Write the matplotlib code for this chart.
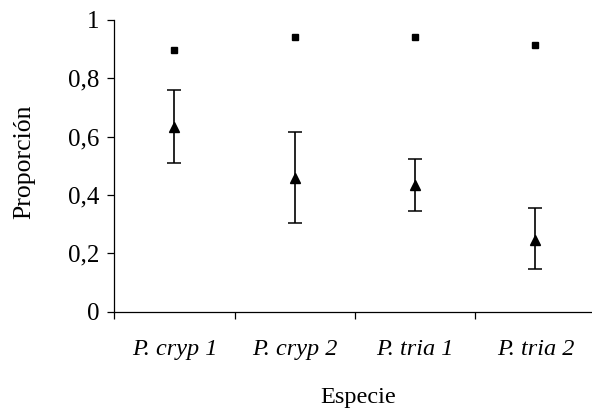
import matplotlib
matplotlib.use("Agg")
import matplotlib.pyplot as plt

plt.rcParams['font.family'] = ['Liberation Serif', 'DejaVu Serif']

# data
especies = ['P. cryp 1', 'P. cryp 2', 'P. tria 1', 'P. tria 2']
cuadrados = [0.896, 0.941, 0.941, 0.915]
triangulos = [0.634, 0.457, 0.434, 0.246]
lim_sup = [0.761, 0.617, 0.523, 0.354]
lim_inf = [0.510, 0.304, 0.345, 0.146]
yticks = [0, 0.2, 0.4, 0.6, 0.8, 1.0]
ytick_labels = ['0', '0,2', '0,4', '0,6', '0,8', '1']

x = list(range(len(especies)))
err_low = [t - l for t, l in zip(triangulos, lim_inf)]
err_high = [h - t for t, h in zip(triangulos, lim_sup)]

fig = plt.figure(figsize=(5.92, 4.12), dpi=100)
ax = fig.add_axes([114.3 / 592, 100.3 / 412, 481.2 / 592, 291.7 / 412])

ax.errorbar(x, triangulos, yerr=[err_low, err_high], fmt='none',
            ecolor='black', elinewidth=1.2, capsize=4.7, capthick=1.1, zorder=2)
ax.plot(x, triangulos, linestyle='none', marker='^', markersize=6.8,
        color='black', zorder=3)
ax.plot(x, cuadrados, linestyle='none', marker='s', markersize=5,
        color='black', zorder=3)

ax.set_xlim(-0.5, 3.5)
ax.set_ylim(0, 1)

# category axis: ticks between categories, labels centred
ax.set_xticks([-0.5, 0.5, 1.5, 2.5, 3.5])
ax.set_xticklabels([])
ax.set_xticks(x, minor=True)
ax.set_xticklabels(especies, minor=True, fontsize=17.5, style='italic')
ax.tick_params(axis='x', which='major', direction='out', length=5, width=0.9)
ax.tick_params(axis='x', which='minor', length=0, pad=20)

ax.set_yticks(yticks)
ax.set_yticklabels(ytick_labels, fontsize=18)
ax.tick_params(axis='y', direction='out', length=5, width=0.9, pad=6)

for s in ['top', 'right']:
    ax.spines[s].set_visible(False)
for s in ['left', 'bottom']:
    ax.spines[s].set_linewidth(0.9)

fig.text(24 / 592, 1 - 162 / 412, 'Proporción', rotation=90,
         ha='center', va='center', fontsize=18.5)
fig.text(358 / 592, 1 - 398 / 412, 'Especie', ha='center', va='center',
         fontsize=17.5)

fig.savefig('out.png', dpi=100)
